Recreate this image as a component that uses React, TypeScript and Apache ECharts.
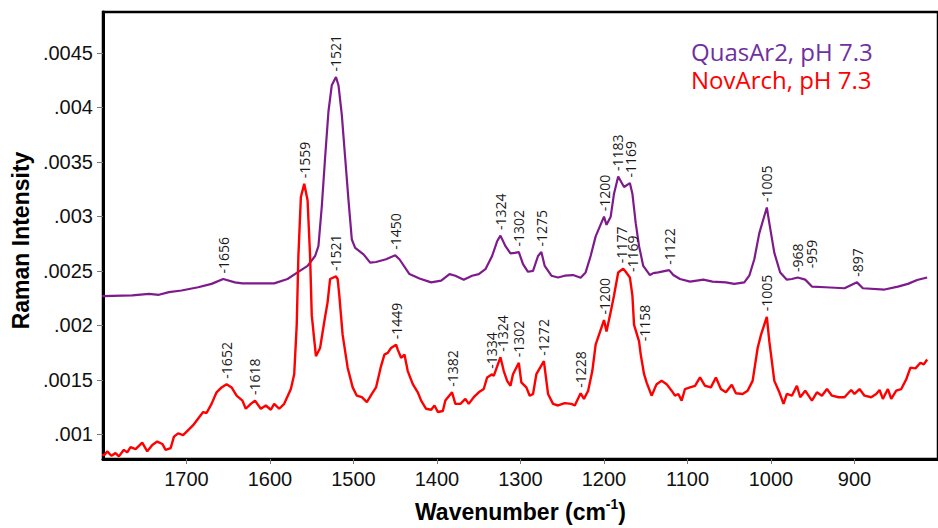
import React, { useEffect, useRef } from 'react';
import * as echarts from 'echarts';

const seriesNames = ['QuasAr2, pH 7.3', 'NovArch, pH 7.3'];

const quasarWavenumber = [1801,1765,1745,1733,1721,1706,1686,1670,1656,1642,1633,1615,1595,1579,1567,1555,1546,1542,1538,1534,1530,1526,1521,1518,1514,1510,1506,1502,1498,1488,1480,1473,1461,1450,1445,1433,1421,1407,1395,1385,1378,1368,1358,1350,1342,1334,1328,1324,1318,1312,1307,1302,1297,1291,1285,1279,1275,1271,1263,1255,1247,1237,1228,1222,1216,1210,1200,1197,1192,1188,1183,1176,1169,1166,1162,1158,1153,1145,1141,1135,1122,1117,1109,1097,1081,1070,1054,1044,1032,1026,1020,1014,1005,1002,996,989,981,975,968,959,951,935,912,897,890,864,848,836,825,813];
const quasarIntensity = [0.002269,0.002275,0.00229,0.002281,0.002305,0.00232,0.00235,0.002381,0.002426,0.002395,0.002386,0.002386,0.002386,0.002426,0.002486,0.002546,0.002637,0.002727,0.003089,0.003541,0.003963,0.004204,0.004279,0.004204,0.003932,0.003541,0.003149,0.002788,0.002712,0.002652,0.002576,0.002582,0.002607,0.002643,0.002607,0.002471,0.002431,0.002395,0.002411,0.002471,0.002456,0.00242,0.002456,0.002471,0.002516,0.002637,0.002772,0.002824,0.002727,0.002661,0.002666,0.002673,0.002562,0.002492,0.002501,0.002637,0.002673,0.002546,0.002456,0.00244,0.002456,0.002462,0.002438,0.002486,0.002637,0.002817,0.002998,0.002923,0.002998,0.003209,0.003366,0.00327,0.003306,0.003209,0.002938,0.002727,0.002546,0.002462,0.00248,0.002486,0.002507,0.002462,0.002426,0.002402,0.00242,0.002402,0.002395,0.002381,0.002395,0.002456,0.002607,0.002847,0.003082,0.002938,0.002666,0.002486,0.00242,0.002426,0.00244,0.00242,0.002356,0.00235,0.002341,0.002395,0.002341,0.002329,0.002356,0.002381,0.002417,0.00244];

const novarchWavenumber = [1801,1798,1795,1790,1785,1781,1775,1771,1767,1761,1753,1747,1741,1735,1729,1725,1719,1715,1710,1704,1698,1692,1686,1680,1676,1670,1664,1658,1652,1646,1640,1633,1629,1623,1618,1611,1605,1599,1595,1589,1583,1575,1571,1568,1566,1563,1559,1555,1552,1550,1545,1540,1535,1531,1528,1521,1519,1517,1513,1507,1501,1496,1490,1484,1478,1473,1467,1463,1459,1455,1449,1447,1443,1439,1435,1429,1423,1419,1413,1407,1403,1399,1393,1390,1382,1378,1372,1366,1362,1356,1350,1344,1340,1334,1332,1324,1320,1316,1312,1309,1302,1299,1293,1289,1285,1281,1272,1267,1261,1255,1247,1239,1235,1228,1224,1219,1214,1210,1200,1197,1192,1188,1183,1177,1174,1169,1166,1164,1158,1156,1152,1149,1143,1137,1131,1125,1119,1115,1111,1107,1103,1097,1091,1085,1079,1072,1066,1060,1054,1047,1042,1034,1028,1022,1016,1012,1005,1002,996,990,985,981,975,969,965,959,951,945,939,933,927,919,912,904,900,894,888,880,874,870,866,860,856,850,844,838,833,827,821,817,813];
const novarchIntensity = [0.00081,0.000813,0.000844,0.000804,0.000828,0.000798,0.000858,0.000835,0.000883,0.000864,0.000925,0.000844,0.000903,0.000934,0.000912,0.000858,0.000874,0.000979,0.001009,0.000994,0.001039,0.001084,0.001145,0.001205,0.001196,0.00128,0.001386,0.001431,0.001461,0.001431,0.001355,0.00131,0.001235,0.00128,0.00131,0.001235,0.001265,0.001226,0.00128,0.001235,0.00128,0.001416,0.001552,0.002004,0.002637,0.003179,0.003299,0.003149,0.002637,0.002094,0.001717,0.001793,0.002034,0.002214,0.002426,0.002449,0.002426,0.002275,0.001913,0.001612,0.001431,0.001355,0.001341,0.001296,0.001371,0.001431,0.001627,0.001732,0.001748,0.001793,0.001823,0.001778,0.001703,0.001732,0.001581,0.001461,0.001386,0.00131,0.001235,0.001226,0.001265,0.001205,0.001214,0.00131,0.001386,0.00128,0.00128,0.001326,0.00128,0.001341,0.001386,0.001416,0.001522,0.001552,0.001536,0.001708,0.001581,0.001491,0.001446,0.001552,0.001657,0.001477,0.001431,0.001355,0.001371,0.001552,0.001672,0.001371,0.00128,0.001265,0.001287,0.00128,0.001265,0.001377,0.001326,0.001401,0.001581,0.001823,0.002049,0.001943,0.002124,0.002275,0.002486,0.002521,0.002492,0.00244,0.002275,0.002004,0.001853,0.001732,0.001552,0.001477,0.001355,0.001461,0.001491,0.001461,0.001401,0.001355,0.001371,0.00131,0.001416,0.001431,0.001446,0.001522,0.001446,0.001431,0.001522,0.001416,0.001386,0.001455,0.001377,0.001371,0.001401,0.001491,0.001793,0.001913,0.002079,0.001853,0.001491,0.001386,0.00128,0.001371,0.001355,0.001446,0.001341,0.001401,0.00131,0.001386,0.001355,0.001416,0.001355,0.001341,0.001341,0.001407,0.001371,0.001416,0.001355,0.001341,0.001371,0.001407,0.001326,0.001416,0.001326,0.001401,0.001416,0.001506,0.001612,0.001606,0.001657,0.001642,0.001687];

// peak label text, anchor wavenumber, anchor intensity
const quasarPeaks: [string, number, number][] = [
  ['1656', 1656, 0.002426], ['1521', 1521, 0.004279], ['1450', 1450, 0.002643],
  ['1324', 1324, 0.002824], ['1302', 1302, 0.002673], ['1275', 1275, 0.002673],
  ['1200', 1200, 0.002998], ['1183', 1184, 0.003366], ['1169', 1168, 0.003306],
  ['1122', 1122, 0.002507], ['1005', 1005, 0.003082], ['968', 968, 0.00244],
  ['959', 951, 0.002474], ['897', 897, 0.002395],
];
const novarchPeaks: [string, number, number][] = [
  ['1652', 1652, 0.001461], ['1618', 1618, 0.00131], ['1559', 1559, 0.003299],
  ['1521', 1521, 0.002449], ['1449', 1449, 0.001823], ['1382', 1382, 0.001386],
  ['1334', 1335, 0.001552], ['1324', 1322, 0.001708], ['1302', 1302, 0.001657],
  ['1272', 1272, 0.001672], ['1228', 1228, 0.001377], ['1200', 1200, 0.002049],
  ['1177', 1179, 0.002521], ['1169', 1166, 0.00244], ['1158', 1152, 0.001805],
  ['1005', 1005, 0.002079],
];

const xTickValues = [1700, 1600, 1500, 1400, 1300, 1200, 1100, 1000, 900];
const yTickValues = [0.001, 0.0015, 0.002, 0.0025, 0.003, 0.0035, 0.004, 0.0045];

const PURPLE_LINE = '#7e1a8c';
const PURPLE_TEXT = '#7030a0';
const RED = '#ff0000';

function zip(xs: number[], ys: number[]) {
  return xs.map((x, i) => [x, ys[i]]);
}

function peakSeries(name: string, peaks: [string, number, number][]) {
  return {
    name,
    type: 'scatter',
    silent: true,
    symbolSize: 1,
    itemStyle: { color: 'rgba(0,0,0,0)' },
    z: 5,
    data: peaks.map(([label, w, v]) => ({ name: label, value: [w, v] })),
    label: {
      show: true,
      position: 'top',
      distance: 5,
      rotate: 90,
      align: 'left',
      verticalAlign: 'middle',
      formatter: '-{b}',
      fontFamily: 'Open Sans',
      fontSize: 14,
      color: '#1a1a1a',
      opacity: 1,
    },
  };
}

function legendBox(index: number, color: string, top: number) {
  return {
    data: [{ name: seriesNames[index], icon: 'none', textStyle: { color } }],
    orient: 'vertical',
    left: 681,
    top,
    itemWidth: 0,
    itemHeight: 10,
    selectedMode: false,
    textStyle: { fontFamily: 'Open Sans', fontSize: 24 },
  };
}

export default function App() {
  const ref = useRef<HTMLDivElement>(null);
  useEffect(() => {
    const chart = echarts.init(ref.current!, null, { renderer: 'svg' });
    const option = {
      animation: false,
      backgroundColor: '#ffffff',
      textStyle: { fontFamily: 'Liberation Sans' },
      grid: {
        left: 103, right: -9.4, top: 12, bottom: 62,
        show: true, borderColor: '#000', borderWidth: 2.5, backgroundColor: 'transparent',
      },
      legend: [legendBox(0, PURPLE_TEXT, 34), legendBox(1, RED, 62)],
      xAxis: {
        type: 'value',
        inverse: true,
        min: 800,
        max: 1800,
        interval: 100,
        splitLine: { show: false },
        axisLine: { show: true, onZero: false, lineStyle: { color: '#000', width: 3 } },
        axisTick: { show: true, length: 5, customValues: xTickValues, lineStyle: { color: '#777', width: 1 } },
        axisLabel: {
          customValues: xTickValues,
          fontSize: 20, color: '#111', fontFamily: 'Liberation Sans', margin: 10,
          formatter: (v: number) => String(v),
        },
        name: '{b|Wavenumber (cm}{sup|-1}{b|)}',
        nameLocation: 'middle',
        nameGap: 38,
        nameTextStyle: {
          rich: {
            b: { fontSize: 23, fontWeight: 'bold', fontFamily: 'Liberation Sans', color: '#000', verticalAlign: 'bottom', lineHeight: 26 },
            sup: { fontSize: 14, fontWeight: 'bold', fontFamily: 'Liberation Sans', color: '#000', verticalAlign: 'top', lineHeight: 26 },
          },
        },
      },
      yAxis: {
        type: 'value',
        min: 0.000774,
        max: 0.004876,
        splitLine: { show: false },
        axisLine: { show: true, onZero: false, lineStyle: { color: '#000', width: 3 } },
        axisTick: { show: true, length: 6, customValues: yTickValues, lineStyle: { color: '#777', width: 1 } },
        axisLabel: {
          customValues: yTickValues,
          fontSize: 20, color: '#111', fontFamily: 'Liberation Sans', margin: 10,
          formatter: (v: number) => v.toFixed(4).replace(/0+$/, '').replace(/^0/, ''),
        },
        name: 'Raman Intensity',
        nameLocation: 'middle',
        nameGap: 69,
        nameTextStyle: { fontSize: 23, fontWeight: 'bold', fontFamily: 'Liberation Sans', color: '#000', padding: [0, 10, 0, 0] },
      },
      series: [
        {
          name: seriesNames[0],
          type: 'line',
          showSymbol: false,
          symbol: 'none',
          data: zip(quasarWavenumber, quasarIntensity),
          lineStyle: { color: PURPLE_LINE, width: 2.2 },
          itemStyle: { color: PURPLE_LINE },
          z: 3,
        },
        {
          name: seriesNames[1],
          type: 'line',
          showSymbol: false,
          symbol: 'none',
          data: zip(novarchWavenumber, novarchIntensity),
          lineStyle: { color: RED, width: 2.4 },
          itemStyle: { color: RED },
          z: 4,
        },
        peakSeries('QuasAr2 peaks', quasarPeaks),
        peakSeries('NovArch peaks', novarchPeaks),
      ],
    };
    chart.setOption(option as any);
    return () => chart.dispose();
  }, []);
  return (
    <div
      ref={ref}
      style={{ position: 'absolute', left: 0, top: 0, width: 938, height: 528 }}
    />
  );
}
